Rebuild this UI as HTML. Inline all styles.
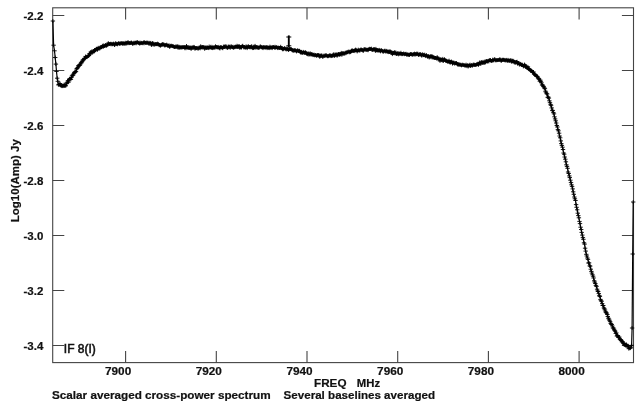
<!DOCTYPE html>
<html><head><meta charset="utf-8"><title>Spectrum</title>
<style>
html,body{margin:0;padding:0;background:#fff;}
svg{display:block;will-change:transform;}
text{font-family:"Liberation Sans",sans-serif;font-weight:bold;font-size:10.7px;fill:#111;stroke:#111;stroke-width:0.2px;}
</style></head><body>
<svg width="639" height="405" viewBox="0 0 639 405">
<rect width="639" height="405" fill="#fff"/>
<rect x="52.7" y="7.8" width="580.8" height="354.8" fill="none" stroke="#444" stroke-width="1.1"/>
<path d="M52.7 15.5h11.6M633.5 15.5h-11.6M52.7 70.5h11.6M633.5 70.5h-11.6M52.7 125.5h11.6M633.5 125.5h-11.6M52.7 180.5h11.6M633.5 180.5h-11.6M52.7 235.5h11.6M633.5 235.5h-11.6M52.7 290.5h11.6M633.5 290.5h-11.6M52.7 345.5h11.6M633.5 345.5h-11.6M125.6 7.8v11.6M125.6 362.6v-11.6M216.3 7.8v11.6M216.3 362.6v-11.6M307.0 7.8v11.6M307.0 362.6v-11.6M397.7 7.8v11.6M397.7 362.6v-11.6M488.4 7.8v11.6M488.4 362.6v-11.6M579.1 7.8v11.6M579.1 362.6v-11.6" stroke="#444" stroke-width="1.1" fill="none"/>
<polyline points="52.9,21.0 53.6,45.2 54.5,50.8 55.2,57.5 55.9,64.1 56.5,71.5 57.2,78.2 57.8,81.3 58.4,84.9 59.0,84.3 59.5,84.6 60.1,83.5 60.7,85.4 61.2,85.6 61.8,86.2 62.4,85.8 62.9,86.2 63.5,85.8 64.1,84.6 64.6,86.0 65.2,85.6 65.8,85.8 66.3,83.8 66.9,82.8 67.5,82.1 68.0,80.6 68.6,82.1 69.2,79.5 69.7,78.7 70.3,78.8 70.9,79.4 71.4,77.5 72.0,75.9 72.6,75.2 73.1,75.1 73.7,73.8 74.3,72.6 74.8,72.1 75.4,71.8 76.0,71.6 76.5,69.0 77.1,68.5 77.7,67.6 78.2,65.9 78.8,65.9 79.4,65.0 79.9,65.3 80.5,63.9 81.1,62.3 81.6,62.8 82.2,61.6 82.8,60.1 83.3,60.0 83.9,59.3 84.5,58.4 85.0,58.2 85.6,56.4 86.2,57.0 86.8,57.2 87.3,56.6 87.9,56.2 88.5,55.7 89.0,55.4 89.6,53.5 90.2,54.1 90.7,52.1 91.3,52.4 91.9,51.3 92.4,52.5 93.0,52.2 93.6,51.0 94.1,51.6 94.7,49.9 95.3,50.0 95.8,49.7 96.4,48.7 97.0,49.2 97.5,49.8 98.1,47.8 98.7,48.6 99.2,47.7 99.8,48.5 100.4,47.5 100.9,47.4 101.5,47.2 102.1,46.8 102.6,45.7 103.2,47.0 103.8,45.3 104.3,46.0 104.9,46.0 105.5,45.0 106.0,45.4 106.6,45.8 107.2,45.0 107.7,44.4 108.3,43.1 108.9,44.1 109.4,44.1 110.0,44.0 110.6,43.7 111.1,44.4 111.7,43.8 112.3,44.1 112.8,44.4 113.4,43.6 114.0,43.8 114.5,45.1 115.1,44.4 115.7,43.1 116.2,43.8 116.8,44.1 117.4,44.4 117.9,43.7 118.5,43.3 119.1,43.2 119.6,43.9 120.2,43.7 120.8,43.2 121.3,43.3 121.9,43.2 122.5,43.8 123.0,42.9 123.6,43.6 124.2,43.7 124.7,43.5 125.3,42.7 125.9,43.9 126.4,42.8 127.0,43.4 127.6,42.7 128.1,42.1 128.7,43.2 129.3,43.2 129.8,43.0 130.4,43.1 131.0,42.6 131.5,42.6 132.1,42.9 132.7,44.0 133.2,43.4 133.8,42.7 134.4,43.3 134.9,42.7 135.5,42.7 136.1,43.4 136.6,42.6 137.2,42.0 137.8,42.4 138.3,43.0 138.9,43.0 139.5,43.6 140.0,42.5 140.6,43.3 141.2,43.1 141.7,42.8 142.3,43.3 142.9,43.1 143.5,42.4 144.0,43.4 144.6,42.2 145.2,42.9 145.7,42.8 146.3,43.0 146.9,42.4 147.4,42.8 148.0,42.8 148.6,43.6 149.1,42.7 149.7,43.3 150.3,43.3 150.8,42.8 151.4,45.1 152.0,43.7 152.5,43.0 153.1,44.7 153.7,43.5 154.2,44.4 154.8,44.7 155.4,44.0 155.9,44.1 156.5,44.1 157.1,44.4 157.6,43.6 158.2,43.9 158.8,44.6 159.3,45.3 159.9,45.1 160.5,45.7 161.0,45.2 161.6,44.6 162.2,44.9 162.7,43.9 163.3,44.5 163.9,44.5 164.4,45.3 165.0,45.6 165.6,45.0 166.1,45.0 166.7,44.6 167.3,45.4 167.8,45.7 168.4,45.9 169.0,45.2 169.5,46.8 170.1,46.5 170.7,45.8 171.2,45.7 171.8,45.8 172.4,46.2 172.9,46.1 173.5,46.5 174.1,46.7 174.6,47.1 175.2,47.1 175.8,46.4 176.3,46.8 176.9,46.4 177.5,46.4 178.0,47.8 178.6,46.6 179.2,48.0 179.7,46.8 180.3,47.2 180.9,47.7 181.4,47.2 182.0,47.5 182.6,47.2 183.1,47.1 183.7,47.2 184.3,47.0 184.8,48.3 185.4,47.3 186.0,48.3 186.5,45.9 187.1,47.4 187.7,47.7 188.2,47.3 188.8,48.1 189.4,47.8 189.9,47.3 190.5,47.7 191.1,49.0 191.6,47.6 192.2,47.7 192.8,47.3 193.3,47.6 193.9,46.8 194.5,47.4 195.0,48.9 195.6,48.1 196.2,47.9 196.7,48.1 197.3,48.5 197.9,47.8 198.4,48.6 199.0,48.1 199.6,47.6 200.2,48.4 200.7,46.2 201.3,47.2 201.9,47.6 202.4,46.9 203.0,47.4 203.6,47.1 204.1,47.1 204.7,48.9 205.3,47.7 205.8,47.4 206.4,48.1 207.0,47.2 207.5,47.8 208.1,47.5 208.7,48.2 209.2,46.5 209.8,47.7 210.4,47.4 210.9,46.7 211.5,47.9 212.1,46.8 212.6,48.2 213.2,47.6 213.8,47.7 214.3,47.3 214.9,47.8 215.5,46.2 216.0,47.3 216.6,46.9 217.2,47.4 217.7,47.2 218.3,47.6 218.9,46.8 219.4,48.2 220.0,48.5 220.6,47.1 221.1,47.2 221.7,47.4 222.3,47.9 222.8,48.3 223.4,46.5 224.0,46.9 224.5,46.6 225.1,46.6 225.7,46.3 226.2,47.4 226.8,46.5 227.4,48.0 227.9,47.6 228.5,46.6 229.1,46.6 229.6,46.8 230.2,47.9 230.8,46.6 231.3,46.3 231.9,47.0 232.5,47.3 233.0,46.7 233.6,47.9 234.2,47.1 234.7,47.3 235.3,46.5 235.9,47.0 236.4,46.9 237.0,45.7 237.6,47.1 238.1,46.0 238.7,46.9 239.3,46.1 239.8,48.0 240.4,47.1 241.0,47.4 241.5,47.5 242.1,46.2 242.7,45.7 243.2,46.8 243.8,47.5 244.4,47.1 244.9,47.5 245.5,47.6 246.1,46.3 246.6,47.3 247.2,48.2 247.8,46.8 248.3,46.1 248.9,47.1 249.5,47.0 250.0,47.5 250.6,46.8 251.2,47.3 251.7,46.1 252.3,47.8 252.9,48.2 253.4,48.1 254.0,46.5 254.6,47.6 255.1,45.8 255.7,47.6 256.3,47.4 256.9,46.9 257.4,47.6 258.0,47.5 258.6,47.9 259.1,47.5 259.7,47.5 260.3,46.3 260.8,46.8 261.4,47.1 262.0,47.6 262.5,47.4 263.1,48.2 263.7,46.9 264.2,47.3 264.8,47.5 265.4,47.3 265.9,47.7 266.5,47.1 267.1,48.2 267.6,47.2 268.2,48.0 268.8,47.4 269.3,48.2 269.9,46.6 270.5,47.7 271.0,47.2 271.6,47.6 272.2,48.2 272.7,47.0 273.3,46.9 273.9,47.1 274.4,47.8 275.0,46.7 275.6,47.8 276.1,47.1 276.7,47.2 277.3,47.7 277.8,48.2 278.4,47.6 279.0,47.8 279.5,48.0 280.1,48.0 280.7,46.7 281.2,48.0 281.8,48.3 282.4,49.0 282.9,49.5 283.5,48.9 284.1,48.6 284.6,48.1 285.2,48.7 285.8,49.2 286.3,49.5 286.9,48.4 287.5,49.1 288.0,49.4 288.6,50.1 289.2,49.2 289.7,48.9 290.3,48.9 290.9,49.2 291.4,49.2 292.0,50.2 292.6,50.4 293.1,50.4 293.7,50.8 294.3,50.0 294.8,50.6 295.4,50.3 296.0,50.7 296.5,51.5 297.1,51.0 297.7,50.1 298.2,51.1 298.8,51.0 299.4,50.7 299.9,51.3 300.5,52.3 301.1,52.9 301.6,51.8 302.2,52.7 302.8,53.0 303.3,51.8 303.9,52.5 304.5,52.7 305.0,52.9 305.6,52.1 306.2,52.9 306.7,53.8 307.3,54.0 307.9,54.4 308.4,53.4 309.0,54.7 309.6,54.2 310.1,53.2 310.7,54.5 311.3,54.0 311.8,54.6 312.4,54.4 313.0,55.2 313.6,54.8 314.1,54.6 314.7,55.4 315.3,55.1 315.8,54.9 316.4,55.9 317.0,55.1 317.5,55.1 318.1,55.3 318.7,54.9 319.2,55.5 319.8,57.0 320.4,55.5 320.9,56.0 321.5,55.4 322.1,55.6 322.6,56.8 323.2,56.5 323.8,55.6 324.3,56.0 324.9,55.5 325.5,55.5 326.0,55.4 326.6,55.4 327.2,56.1 327.7,56.3 328.3,56.2 328.9,55.8 329.4,55.2 330.0,55.9 330.6,55.3 331.1,56.2 331.7,55.9 332.3,55.9 332.8,55.2 333.4,54.3 334.0,55.8 334.5,55.8 335.1,54.2 335.7,55.0 336.2,55.5 336.8,54.2 337.4,55.6 337.9,54.4 338.5,53.9 339.1,55.1 339.6,54.4 340.2,53.8 340.8,54.5 341.3,52.8 341.9,54.8 342.5,53.2 343.0,53.7 343.6,53.2 344.2,53.5 344.7,53.6 345.3,52.6 345.9,53.3 346.4,52.5 347.0,52.2 347.6,52.3 348.1,51.7 348.7,51.6 349.3,52.4 349.8,51.7 350.4,52.2 351.0,51.7 351.5,50.8 352.1,50.2 352.7,50.7 353.2,51.1 353.8,50.9 354.4,50.3 354.9,51.2 355.5,49.6 356.1,49.8 356.6,50.5 357.2,51.5 357.8,50.5 358.3,49.6 358.9,50.5 359.5,50.4 360.0,50.5 360.6,49.7 361.2,49.4 361.7,49.9 362.3,50.0 362.9,50.6 363.4,50.8 364.0,49.2 364.6,49.3 365.1,49.5 365.7,49.4 366.3,49.8 366.8,49.8 367.4,49.7 368.0,50.3 368.5,49.5 369.1,49.0 369.7,48.7 370.3,49.0 370.8,49.0 371.4,48.6 372.0,50.0 372.5,49.8 373.1,49.5 373.7,49.3 374.2,49.0 374.8,49.4 375.4,51.0 375.9,48.8 376.5,50.2 377.1,50.6 377.6,50.3 378.2,50.1 378.8,50.8 379.3,49.8 379.9,50.8 380.5,51.4 381.0,50.1 381.6,50.3 382.2,50.9 382.7,51.4 383.3,51.7 383.9,51.4 384.4,50.8 385.0,50.6 385.6,51.4 386.1,51.6 386.7,50.8 387.3,51.5 387.8,51.8 388.4,52.2 389.0,51.2 389.5,52.1 390.1,51.3 390.7,51.8 391.2,52.1 391.8,53.1 392.4,54.2 392.9,52.6 393.5,52.9 394.1,53.3 394.6,52.1 395.2,53.4 395.8,52.4 396.3,54.1 396.9,54.1 397.5,53.6 398.0,52.9 398.6,54.4 399.2,53.6 399.7,53.6 400.3,53.9 400.9,52.7 401.4,53.9 402.0,54.3 402.6,54.0 403.1,53.9 403.7,53.4 404.3,54.3 404.8,54.1 405.4,54.0 406.0,53.7 406.5,54.5 407.1,54.8 407.7,54.3 408.2,54.6 408.8,54.9 409.4,55.1 409.9,54.3 410.5,54.1 411.1,54.0 411.6,54.3 412.2,54.6 412.8,54.8 413.3,54.0 413.9,54.3 414.5,53.6 415.0,54.8 415.6,53.9 416.2,54.3 416.7,53.6 417.3,53.8 417.9,53.7 418.4,55.1 419.0,54.5 419.6,54.4 420.1,54.0 420.7,54.3 421.3,55.1 421.8,55.8 422.4,54.3 423.0,54.7 423.5,55.2 424.1,55.1 424.7,54.6 425.2,55.7 425.8,56.2 426.4,55.0 427.0,56.1 427.5,56.6 428.1,56.7 428.7,56.0 429.2,57.6 429.8,56.8 430.4,56.1 430.9,57.2 431.5,56.2 432.1,57.5 432.6,56.4 433.2,57.7 433.8,57.0 434.3,58.1 434.9,58.0 435.5,58.0 436.0,57.9 436.6,58.6 437.2,57.1 437.7,58.5 438.3,58.7 438.9,58.9 439.4,59.3 440.0,61.0 440.6,59.2 441.1,59.8 441.7,59.6 442.3,60.6 442.8,58.8 443.4,61.0 444.0,59.9 444.5,59.2 445.1,60.0 445.7,60.7 446.2,61.1 446.8,61.1 447.4,61.7 447.9,61.4 448.5,61.6 449.1,60.6 449.6,62.2 450.2,62.7 450.8,62.1 451.3,61.4 451.9,61.9 452.5,63.7 453.0,62.6 453.6,62.7 454.2,62.7 454.7,63.7 455.3,63.1 455.9,63.1 456.4,62.9 457.0,63.8 457.6,64.6 458.1,64.1 458.7,64.8 459.3,64.5 459.8,64.6 460.4,64.8 461.0,64.7 461.5,65.4 462.1,65.1 462.7,64.6 463.2,65.1 463.8,65.1 464.4,65.4 464.9,65.4 465.5,65.6 466.1,64.6 466.6,65.7 467.2,66.3 467.8,64.9 468.3,66.5 468.9,65.7 469.5,65.4 470.0,64.6 470.6,66.1 471.2,65.0 471.7,65.2 472.3,65.8 472.9,64.8 473.4,64.7 474.0,64.5 474.6,64.9 475.1,65.1 475.7,64.9 476.3,64.7 476.8,64.2 477.4,64.3 478.0,63.7 478.5,64.9 479.1,63.8 479.7,62.4 480.2,62.7 480.8,64.0 481.4,62.1 481.9,62.4 482.5,62.7 483.1,61.8 483.7,62.8 484.2,63.0 484.8,61.5 485.4,62.5 485.9,61.2 486.5,61.0 487.1,61.6 487.6,61.4 488.2,60.8 488.8,61.5 489.3,60.1 489.9,60.3 490.5,60.0 491.0,61.0 491.6,60.9 492.2,60.8 492.7,59.6 493.3,60.3 493.9,60.4 494.4,59.2 495.0,59.5 495.6,60.3 496.1,60.4 496.7,60.1 497.3,60.2 497.8,60.1 498.4,60.0 499.0,59.8 499.5,59.4 500.1,59.7 500.7,59.6 501.2,61.1 501.8,60.0 502.4,59.8 502.9,59.7 503.5,59.8 504.1,59.8 504.6,60.3 505.2,60.1 505.8,60.6 506.3,59.8 506.9,60.4 507.5,60.8 508.0,59.8 508.6,60.6 509.2,60.8 509.7,60.6 510.3,60.6 510.9,60.0 511.4,61.8 512.0,60.8 512.6,60.7 513.1,62.0 513.7,60.8 514.3,62.5 514.8,62.3 515.4,62.6 516.0,62.4 516.5,61.9 517.1,61.7 517.7,63.8 518.2,63.0 518.8,63.2 519.4,64.7 519.9,63.7 520.5,64.2 521.1,64.5 521.6,64.8 522.2,64.6 522.8,65.1 523.3,66.4 523.9,66.3 524.5,64.5 525.0,65.3 525.6,66.9 526.2,66.9 526.7,67.0 527.3,68.0 527.9,66.8 528.4,69.0 529.0,68.8 529.6,69.5 530.1,69.9 530.7,70.7 531.3,70.6 531.8,70.9 532.4,72.2 533.0,72.3 533.5,72.0 534.1,74.0 534.7,74.4 535.2,75.1 535.8,75.1 536.4,76.0 536.9,76.3 537.5,76.7 538.1,78.0 538.6,78.8 539.2,79.1 539.8,81.2 540.4,80.2 540.9,81.7 541.5,82.8 542.1,84.9 542.6,85.1 543.2,86.1 543.8,86.8 544.3,87.9 544.9,88.7 545.5,91.2 546.0,92.2 546.6,93.7 547.2,94.0 547.7,97.3 548.3,97.1 548.9,98.1 549.4,100.8 550.0,102.7 550.6,104.7 551.1,105.3 551.7,107.9 552.3,110.3 552.8,110.7 553.4,112.6 554.0,113.9 554.5,116.8 555.1,118.9 555.7,120.8 556.2,123.0 556.8,125.5 557.4,127.0 557.9,129.6 558.5,130.8 559.1,133.2 559.6,136.0 560.2,137.8 560.8,140.9 561.3,143.6 561.9,145.4 562.5,147.2 563.0,149.5 563.6,153.0 564.2,154.2 564.7,157.0 565.3,159.2 565.9,161.8 566.4,164.8 567.0,166.4 567.6,168.3 568.1,172.0 568.7,173.5 569.3,175.9 569.8,177.6 570.4,180.2 571.0,182.6 571.5,184.8 572.1,186.4 572.7,188.9 573.2,191.8 573.8,194.3 574.4,197.0 574.9,198.8 575.5,200.5 576.1,204.6 576.6,207.3 577.2,209.8 577.8,213.2 578.3,215.6 578.9,217.8 579.5,221.4 580.0,223.6 580.6,227.2 581.2,229.5 581.7,232.4 582.3,235.1 582.9,237.6 583.4,239.3 584.0,242.8 584.6,244.1 585.1,248.2 585.7,251.1 586.3,254.3 586.8,256.0 587.4,258.0 588.0,259.4 588.5,263.0 589.1,262.9 589.7,265.9 590.2,266.1 590.8,269.2 591.4,271.4 591.9,273.1 592.5,274.8 593.1,276.2 593.6,278.0 594.2,280.8 594.8,282.1 595.3,283.5 595.9,285.4 596.5,286.4 597.1,289.2 597.6,291.0 598.2,291.5 598.8,293.6 599.3,295.7 599.9,296.4 600.5,299.4 601.0,300.7 601.6,301.3 602.2,303.6 602.7,305.5 603.3,305.5 603.9,307.9 604.4,308.8 605.0,310.0 605.6,311.8 606.1,312.4 606.7,313.2 607.3,314.5 607.8,316.5 608.4,318.2 609.0,319.1 609.5,320.3 610.1,321.6 610.7,323.4 611.2,324.1 611.8,324.6 612.4,326.0 612.9,327.9 613.5,328.1 614.1,329.3 614.6,330.6 615.2,331.2 615.8,333.4 616.3,332.9 616.9,336.0 617.5,335.6 618.0,335.9 618.6,337.4 619.2,337.0 619.7,338.9 620.3,339.7 620.9,339.7 621.4,340.5 622.0,341.9 622.6,341.7 623.1,342.8 623.7,343.6 624.3,344.9 624.8,344.2 625.4,344.9 626.0,346.0 626.5,344.4 627.1,346.1 627.7,345.6 628.2,346.1 628.8,348.7 629.4,348.2 630.4,348.2 631.0,347.2 631.6,345.3 632.1,328.0 632.7,254.0 633.2,202.0" fill="none" stroke="#000" stroke-width="1.2" stroke-linejoin="round"/>
<path d="M50.7 21.0h4.4M52.9 19.1v3.8M51.4 45.2h4.4M53.6 43.3v3.8M52.3 50.8h4.4M54.5 48.9v3.8M53.0 57.5h4.4M55.2 55.6v3.8M53.7 64.1h4.4M55.9 62.2v3.8M54.3 71.5h4.4M56.5 69.6v3.8M55.0 78.2h4.4M57.2 76.3v3.8M55.6 81.3h4.4M57.8 79.4v3.8M56.2 84.9h4.4M58.4 83.0v3.8M56.8 84.3h4.4M59.0 82.4v3.8M57.3 84.6h4.4M59.5 82.7v3.8M57.9 83.5h4.4M60.1 81.6v3.8M58.5 85.4h4.4M60.7 83.5v3.8M59.0 85.6h4.4M61.2 83.7v3.8M59.6 86.2h4.4M61.8 84.3v3.8M60.2 85.8h4.4M62.4 83.9v3.8M60.7 86.2h4.4M62.9 84.3v3.8M61.3 85.8h4.4M63.5 83.9v3.8M61.9 84.6h4.4M64.1 82.7v3.8M62.4 86.0h4.4M64.6 84.1v3.8M63.0 85.6h4.4M65.2 83.7v3.8M63.6 85.8h4.4M65.8 83.9v3.8M64.1 83.8h4.4M66.3 81.9v3.8M64.7 82.8h4.4M66.9 80.9v3.8M65.3 82.1h4.4M67.5 80.2v3.8M65.8 80.6h4.4M68.0 78.7v3.8M66.4 82.1h4.4M68.6 80.2v3.8M67.0 79.5h4.4M69.2 77.6v3.8M67.5 78.7h4.4M69.7 76.8v3.8M68.1 78.8h4.4M70.3 76.9v3.8M68.7 79.4h4.4M70.9 77.5v3.8M69.2 77.5h4.4M71.4 75.6v3.8M69.8 75.9h4.4M72.0 74.0v3.8M70.4 75.2h4.4M72.6 73.3v3.8M70.9 75.1h4.4M73.1 73.2v3.8M71.5 73.8h4.4M73.7 71.9v3.8M72.1 72.6h4.4M74.3 70.7v3.8M72.6 72.1h4.4M74.8 70.2v3.8M73.2 71.8h4.4M75.4 69.9v3.8M73.8 71.6h4.4M76.0 69.7v3.8M74.3 69.0h4.4M76.5 67.1v3.8M74.9 68.5h4.4M77.1 66.6v3.8M75.5 67.6h4.4M77.7 65.7v3.8M76.0 65.9h4.4M78.2 64.0v3.8M76.6 65.9h4.4M78.8 64.0v3.8M77.2 65.0h4.4M79.4 63.1v3.8M77.7 65.3h4.4M79.9 63.4v3.8M78.3 63.9h4.4M80.5 62.0v3.8M78.9 62.3h4.4M81.1 60.4v3.8M79.4 62.8h4.4M81.6 60.9v3.8M80.0 61.6h4.4M82.2 59.7v3.8M80.6 60.1h4.4M82.8 58.2v3.8M81.1 60.0h4.4M83.3 58.1v3.8M81.7 59.3h4.4M83.9 57.4v3.8M82.3 58.4h4.4M84.5 56.5v3.8M82.8 58.2h4.4M85.0 56.3v3.8M83.4 56.4h4.4M85.6 54.5v3.8M84.0 57.0h4.4M86.2 55.1v3.8M84.5 57.2h4.4M86.8 55.3v3.8M85.1 56.6h4.4M87.3 54.7v3.8M85.7 56.2h4.4M87.9 54.3v3.8M86.3 55.7h4.4M88.5 53.8v3.8M86.8 55.4h4.4M89.0 53.5v3.8M87.4 53.5h4.4M89.6 51.6v3.8M88.0 54.1h4.4M90.2 52.2v3.8M88.5 52.1h4.4M90.7 50.2v3.8M89.1 52.4h4.4M91.3 50.5v3.8M89.7 51.3h4.4M91.9 49.4v3.8M90.2 52.5h4.4M92.4 50.6v3.8M90.8 52.2h4.4M93.0 50.3v3.8M91.4 51.0h4.4M93.6 49.1v3.8M91.9 51.6h4.4M94.1 49.7v3.8M92.5 49.9h4.4M94.7 48.0v3.8M93.1 50.0h4.4M95.3 48.1v3.8M93.6 49.7h4.4M95.8 47.8v3.8M94.2 48.7h4.4M96.4 46.8v3.8M94.8 49.2h4.4M97.0 47.3v3.8M95.3 49.8h4.4M97.5 47.9v3.8M95.9 47.8h4.4M98.1 45.9v3.8M96.5 48.6h4.4M98.7 46.7v3.8M97.0 47.7h4.4M99.2 45.8v3.8M97.6 48.5h4.4M99.8 46.6v3.8M98.2 47.5h4.4M100.4 45.6v3.8M98.7 47.4h4.4M100.9 45.5v3.8M99.3 47.2h4.4M101.5 45.3v3.8M99.9 46.8h4.4M102.1 44.9v3.8M100.4 45.7h4.4M102.6 43.8v3.8M101.0 47.0h4.4M103.2 45.1v3.8M101.6 45.3h4.4M103.8 43.4v3.8M102.1 46.0h4.4M104.3 44.1v3.8M102.7 46.0h4.4M104.9 44.1v3.8M103.3 45.0h4.4M105.5 43.1v3.8M103.8 45.4h4.4M106.0 43.5v3.8M104.4 45.8h4.4M106.6 43.9v3.8M105.0 45.0h4.4M107.2 43.1v3.8M105.5 44.4h4.4M107.7 42.5v3.8M106.1 43.1h4.4M108.3 41.2v3.8M106.7 44.1h4.4M108.9 42.2v3.8M107.2 44.1h4.4M109.4 42.2v3.8M107.8 44.0h4.4M110.0 42.1v3.8M108.4 43.7h4.4M110.6 41.8v3.8M108.9 44.4h4.4M111.1 42.5v3.8M109.5 43.8h4.4M111.7 41.9v3.8M110.1 44.1h4.4M112.3 42.2v3.8M110.6 44.4h4.4M112.8 42.5v3.8M111.2 43.6h4.4M113.4 41.7v3.8M111.8 43.8h4.4M114.0 41.9v3.8M112.3 45.1h4.4M114.5 43.2v3.8M112.9 44.4h4.4M115.1 42.5v3.8M113.5 43.1h4.4M115.7 41.2v3.8M114.0 43.8h4.4M116.2 41.9v3.8M114.6 44.1h4.4M116.8 42.2v3.8M115.2 44.4h4.4M117.4 42.5v3.8M115.7 43.7h4.4M117.9 41.8v3.8M116.3 43.3h4.4M118.5 41.4v3.8M116.9 43.2h4.4M119.1 41.3v3.8M117.4 43.9h4.4M119.6 42.0v3.8M118.0 43.7h4.4M120.2 41.8v3.8M118.6 43.2h4.4M120.8 41.3v3.8M119.1 43.3h4.4M121.3 41.4v3.8M119.7 43.2h4.4M121.9 41.3v3.8M120.3 43.8h4.4M122.5 41.9v3.8M120.8 42.9h4.4M123.0 41.0v3.8M121.4 43.6h4.4M123.6 41.7v3.8M122.0 43.7h4.4M124.2 41.8v3.8M122.5 43.5h4.4M124.7 41.6v3.8M123.1 42.7h4.4M125.3 40.8v3.8M123.7 43.9h4.4M125.9 42.0v3.8M124.2 42.8h4.4M126.4 40.9v3.8M124.8 43.4h4.4M127.0 41.5v3.8M125.4 42.7h4.4M127.6 40.8v3.8M125.9 42.1h4.4M128.1 40.2v3.8M126.5 43.2h4.4M128.7 41.3v3.8M127.1 43.2h4.4M129.3 41.3v3.8M127.6 43.0h4.4M129.8 41.1v3.8M128.2 43.1h4.4M130.4 41.2v3.8M128.8 42.6h4.4M131.0 40.7v3.8M129.3 42.6h4.4M131.5 40.7v3.8M129.9 42.9h4.4M132.1 41.0v3.8M130.5 44.0h4.4M132.7 42.1v3.8M131.0 43.4h4.4M133.2 41.5v3.8M131.6 42.7h4.4M133.8 40.8v3.8M132.2 43.3h4.4M134.4 41.4v3.8M132.7 42.7h4.4M134.9 40.8v3.8M133.3 42.7h4.4M135.5 40.8v3.8M133.9 43.4h4.4M136.1 41.5v3.8M134.4 42.6h4.4M136.6 40.7v3.8M135.0 42.0h4.4M137.2 40.1v3.8M135.6 42.4h4.4M137.8 40.5v3.8M136.1 43.0h4.4M138.3 41.1v3.8M136.7 43.0h4.4M138.9 41.1v3.8M137.3 43.6h4.4M139.5 41.7v3.8M137.8 42.5h4.4M140.0 40.6v3.8M138.4 43.3h4.4M140.6 41.4v3.8M139.0 43.1h4.4M141.2 41.2v3.8M139.5 42.8h4.4M141.7 40.9v3.8M140.1 43.3h4.4M142.3 41.4v3.8M140.7 43.1h4.4M142.9 41.2v3.8M141.3 42.4h4.4M143.5 40.5v3.8M141.8 43.4h4.4M144.0 41.5v3.8M142.4 42.2h4.4M144.6 40.3v3.8M143.0 42.9h4.4M145.2 41.0v3.8M143.5 42.8h4.4M145.7 40.9v3.8M144.1 43.0h4.4M146.3 41.1v3.8M144.7 42.4h4.4M146.9 40.5v3.8M145.2 42.8h4.4M147.4 40.9v3.8M145.8 42.8h4.4M148.0 40.9v3.8M146.4 43.6h4.4M148.6 41.7v3.8M146.9 42.7h4.4M149.1 40.8v3.8M147.5 43.3h4.4M149.7 41.4v3.8M148.1 43.3h4.4M150.3 41.4v3.8M148.6 42.8h4.4M150.8 40.9v3.8M149.2 45.1h4.4M151.4 43.2v3.8M149.8 43.7h4.4M152.0 41.8v3.8M150.3 43.0h4.4M152.5 41.1v3.8M150.9 44.7h4.4M153.1 42.8v3.8M151.5 43.5h4.4M153.7 41.6v3.8M152.0 44.4h4.4M154.2 42.5v3.8M152.6 44.7h4.4M154.8 42.8v3.8M153.2 44.0h4.4M155.4 42.1v3.8M153.7 44.1h4.4M155.9 42.2v3.8M154.3 44.1h4.4M156.5 42.2v3.8M154.9 44.4h4.4M157.1 42.5v3.8M155.4 43.6h4.4M157.6 41.7v3.8M156.0 43.9h4.4M158.2 42.0v3.8M156.6 44.6h4.4M158.8 42.7v3.8M157.1 45.3h4.4M159.3 43.4v3.8M157.7 45.1h4.4M159.9 43.2v3.8M158.3 45.7h4.4M160.5 43.8v3.8M158.8 45.2h4.4M161.0 43.3v3.8M159.4 44.6h4.4M161.6 42.7v3.8M160.0 44.9h4.4M162.2 43.0v3.8M160.5 43.9h4.4M162.7 42.0v3.8M161.1 44.5h4.4M163.3 42.6v3.8M161.7 44.5h4.4M163.9 42.6v3.8M162.2 45.3h4.4M164.4 43.4v3.8M162.8 45.6h4.4M165.0 43.7v3.8M163.4 45.0h4.4M165.6 43.1v3.8M163.9 45.0h4.4M166.1 43.1v3.8M164.5 44.6h4.4M166.7 42.7v3.8M165.1 45.4h4.4M167.3 43.5v3.8M165.6 45.7h4.4M167.8 43.8v3.8M166.2 45.9h4.4M168.4 44.0v3.8M166.8 45.2h4.4M169.0 43.3v3.8M167.3 46.8h4.4M169.5 44.9v3.8M167.9 46.5h4.4M170.1 44.6v3.8M168.5 45.8h4.4M170.7 43.9v3.8M169.0 45.7h4.4M171.2 43.8v3.8M169.6 45.8h4.4M171.8 43.9v3.8M170.2 46.2h4.4M172.4 44.3v3.8M170.7 46.1h4.4M172.9 44.2v3.8M171.3 46.5h4.4M173.5 44.6v3.8M171.9 46.7h4.4M174.1 44.8v3.8M172.4 47.1h4.4M174.6 45.2v3.8M173.0 47.1h4.4M175.2 45.2v3.8M173.6 46.4h4.4M175.8 44.5v3.8M174.1 46.8h4.4M176.3 44.9v3.8M174.7 46.4h4.4M176.9 44.5v3.8M175.3 46.4h4.4M177.5 44.5v3.8M175.8 47.8h4.4M178.0 45.9v3.8M176.4 46.6h4.4M178.6 44.7v3.8M177.0 48.0h4.4M179.2 46.1v3.8M177.5 46.8h4.4M179.7 44.9v3.8M178.1 47.2h4.4M180.3 45.3v3.8M178.7 47.7h4.4M180.9 45.8v3.8M179.2 47.2h4.4M181.4 45.3v3.8M179.8 47.5h4.4M182.0 45.6v3.8M180.4 47.2h4.4M182.6 45.3v3.8M180.9 47.1h4.4M183.1 45.2v3.8M181.5 47.2h4.4M183.7 45.3v3.8M182.1 47.0h4.4M184.3 45.1v3.8M182.6 48.3h4.4M184.8 46.4v3.8M183.2 47.3h4.4M185.4 45.4v3.8M183.8 48.3h4.4M186.0 46.4v3.8M184.3 45.9h4.4M186.5 44.0v3.8M184.9 47.4h4.4M187.1 45.5v3.8M185.5 47.7h4.4M187.7 45.8v3.8M186.0 47.3h4.4M188.2 45.4v3.8M186.6 48.1h4.4M188.8 46.2v3.8M187.2 47.8h4.4M189.4 45.9v3.8M187.7 47.3h4.4M189.9 45.4v3.8M188.3 47.7h4.4M190.5 45.8v3.8M188.9 49.0h4.4M191.1 47.1v3.8M189.4 47.6h4.4M191.6 45.7v3.8M190.0 47.7h4.4M192.2 45.8v3.8M190.6 47.3h4.4M192.8 45.4v3.8M191.1 47.6h4.4M193.3 45.7v3.8M191.7 46.8h4.4M193.9 44.9v3.8M192.3 47.4h4.4M194.5 45.5v3.8M192.8 48.9h4.4M195.0 47.0v3.8M193.4 48.1h4.4M195.6 46.2v3.8M194.0 47.9h4.4M196.2 46.0v3.8M194.5 48.1h4.4M196.7 46.2v3.8M195.1 48.5h4.4M197.3 46.6v3.8M195.7 47.8h4.4M197.9 45.9v3.8M196.2 48.6h4.4M198.4 46.7v3.8M196.8 48.1h4.4M199.0 46.2v3.8M197.4 47.6h4.4M199.6 45.7v3.8M198.0 48.4h4.4M200.2 46.5v3.8M198.5 46.2h4.4M200.7 44.3v3.8M199.1 47.2h4.4M201.3 45.3v3.8M199.7 47.6h4.4M201.9 45.7v3.8M200.2 46.9h4.4M202.4 45.0v3.8M200.8 47.4h4.4M203.0 45.5v3.8M201.4 47.1h4.4M203.6 45.2v3.8M201.9 47.1h4.4M204.1 45.2v3.8M202.5 48.9h4.4M204.7 47.0v3.8M203.1 47.7h4.4M205.3 45.8v3.8M203.6 47.4h4.4M205.8 45.5v3.8M204.2 48.1h4.4M206.4 46.2v3.8M204.8 47.2h4.4M207.0 45.3v3.8M205.3 47.8h4.4M207.5 45.9v3.8M205.9 47.5h4.4M208.1 45.6v3.8M206.5 48.2h4.4M208.7 46.3v3.8M207.0 46.5h4.4M209.2 44.6v3.8M207.6 47.7h4.4M209.8 45.8v3.8M208.2 47.4h4.4M210.4 45.5v3.8M208.7 46.7h4.4M210.9 44.8v3.8M209.3 47.9h4.4M211.5 46.0v3.8M209.9 46.8h4.4M212.1 44.9v3.8M210.4 48.2h4.4M212.6 46.3v3.8M211.0 47.6h4.4M213.2 45.7v3.8M211.6 47.7h4.4M213.8 45.8v3.8M212.1 47.3h4.4M214.3 45.4v3.8M212.7 47.8h4.4M214.9 45.9v3.8M213.3 46.2h4.4M215.5 44.3v3.8M213.8 47.3h4.4M216.0 45.4v3.8M214.4 46.9h4.4M216.6 45.0v3.8M215.0 47.4h4.4M217.2 45.5v3.8M215.5 47.2h4.4M217.7 45.3v3.8M216.1 47.6h4.4M218.3 45.7v3.8M216.7 46.8h4.4M218.9 44.9v3.8M217.2 48.2h4.4M219.4 46.3v3.8M217.8 48.5h4.4M220.0 46.6v3.8M218.4 47.1h4.4M220.6 45.2v3.8M218.9 47.2h4.4M221.1 45.3v3.8M219.5 47.4h4.4M221.7 45.5v3.8M220.1 47.9h4.4M222.3 46.0v3.8M220.6 48.3h4.4M222.8 46.4v3.8M221.2 46.5h4.4M223.4 44.6v3.8M221.8 46.9h4.4M224.0 45.0v3.8M222.3 46.6h4.4M224.5 44.7v3.8M222.9 46.6h4.4M225.1 44.7v3.8M223.5 46.3h4.4M225.7 44.4v3.8M224.0 47.4h4.4M226.2 45.5v3.8M224.6 46.5h4.4M226.8 44.6v3.8M225.2 48.0h4.4M227.4 46.1v3.8M225.7 47.6h4.4M227.9 45.7v3.8M226.3 46.6h4.4M228.5 44.7v3.8M226.9 46.6h4.4M229.1 44.7v3.8M227.4 46.8h4.4M229.6 44.9v3.8M228.0 47.9h4.4M230.2 46.0v3.8M228.6 46.6h4.4M230.8 44.7v3.8M229.1 46.3h4.4M231.3 44.4v3.8M229.7 47.0h4.4M231.9 45.1v3.8M230.3 47.3h4.4M232.5 45.4v3.8M230.8 46.7h4.4M233.0 44.8v3.8M231.4 47.9h4.4M233.6 46.0v3.8M232.0 47.1h4.4M234.2 45.2v3.8M232.5 47.3h4.4M234.7 45.4v3.8M233.1 46.5h4.4M235.3 44.6v3.8M233.7 47.0h4.4M235.9 45.1v3.8M234.2 46.9h4.4M236.4 45.0v3.8M234.8 45.7h4.4M237.0 43.8v3.8M235.4 47.1h4.4M237.6 45.2v3.8M235.9 46.0h4.4M238.1 44.1v3.8M236.5 46.9h4.4M238.7 45.0v3.8M237.1 46.1h4.4M239.3 44.2v3.8M237.6 48.0h4.4M239.8 46.1v3.8M238.2 47.1h4.4M240.4 45.2v3.8M238.8 47.4h4.4M241.0 45.5v3.8M239.3 47.5h4.4M241.5 45.6v3.8M239.9 46.2h4.4M242.1 44.3v3.8M240.5 45.7h4.4M242.7 43.8v3.8M241.0 46.8h4.4M243.2 44.9v3.8M241.6 47.5h4.4M243.8 45.6v3.8M242.2 47.1h4.4M244.4 45.2v3.8M242.7 47.5h4.4M244.9 45.6v3.8M243.3 47.6h4.4M245.5 45.7v3.8M243.9 46.3h4.4M246.1 44.4v3.8M244.4 47.3h4.4M246.6 45.4v3.8M245.0 48.2h4.4M247.2 46.3v3.8M245.6 46.8h4.4M247.8 44.9v3.8M246.1 46.1h4.4M248.3 44.2v3.8M246.7 47.1h4.4M248.9 45.2v3.8M247.3 47.0h4.4M249.5 45.1v3.8M247.8 47.5h4.4M250.0 45.6v3.8M248.4 46.8h4.4M250.6 44.9v3.8M249.0 47.3h4.4M251.2 45.4v3.8M249.5 46.1h4.4M251.7 44.2v3.8M250.1 47.8h4.4M252.3 45.9v3.8M250.7 48.2h4.4M252.9 46.3v3.8M251.2 48.1h4.4M253.4 46.2v3.8M251.8 46.5h4.4M254.0 44.6v3.8M252.4 47.6h4.4M254.6 45.7v3.8M252.9 45.8h4.4M255.1 43.9v3.8M253.5 47.6h4.4M255.7 45.7v3.8M254.1 47.4h4.4M256.3 45.5v3.8M254.7 46.9h4.4M256.9 45.0v3.8M255.2 47.6h4.4M257.4 45.7v3.8M255.8 47.5h4.4M258.0 45.6v3.8M256.4 47.9h4.4M258.6 46.0v3.8M256.9 47.5h4.4M259.1 45.6v3.8M257.5 47.5h4.4M259.7 45.6v3.8M258.1 46.3h4.4M260.3 44.4v3.8M258.6 46.8h4.4M260.8 44.9v3.8M259.2 47.1h4.4M261.4 45.2v3.8M259.8 47.6h4.4M262.0 45.7v3.8M260.3 47.4h4.4M262.5 45.5v3.8M260.9 48.2h4.4M263.1 46.3v3.8M261.5 46.9h4.4M263.7 45.0v3.8M262.0 47.3h4.4M264.2 45.4v3.8M262.6 47.5h4.4M264.8 45.6v3.8M263.2 47.3h4.4M265.4 45.4v3.8M263.7 47.7h4.4M265.9 45.8v3.8M264.3 47.1h4.4M266.5 45.2v3.8M264.9 48.2h4.4M267.1 46.3v3.8M265.4 47.2h4.4M267.6 45.3v3.8M266.0 48.0h4.4M268.2 46.1v3.8M266.6 47.4h4.4M268.8 45.5v3.8M267.1 48.2h4.4M269.3 46.3v3.8M267.7 46.6h4.4M269.9 44.7v3.8M268.3 47.7h4.4M270.5 45.8v3.8M268.8 47.2h4.4M271.0 45.3v3.8M269.4 47.6h4.4M271.6 45.7v3.8M270.0 48.2h4.4M272.2 46.3v3.8M270.5 47.0h4.4M272.7 45.1v3.8M271.1 46.9h4.4M273.3 45.0v3.8M271.7 47.1h4.4M273.9 45.2v3.8M272.2 47.8h4.4M274.4 45.9v3.8M272.8 46.7h4.4M275.0 44.8v3.8M273.4 47.8h4.4M275.6 45.9v3.8M273.9 47.1h4.4M276.1 45.2v3.8M274.5 47.2h4.4M276.7 45.3v3.8M275.1 47.7h4.4M277.3 45.8v3.8M275.6 48.2h4.4M277.8 46.3v3.8M276.2 47.6h4.4M278.4 45.7v3.8M276.8 47.8h4.4M279.0 45.9v3.8M277.3 48.0h4.4M279.5 46.1v3.8M277.9 48.0h4.4M280.1 46.1v3.8M278.5 46.7h4.4M280.7 44.8v3.8M279.0 48.0h4.4M281.2 46.1v3.8M279.6 48.3h4.4M281.8 46.4v3.8M280.2 49.0h4.4M282.4 47.1v3.8M280.7 49.5h4.4M282.9 47.6v3.8M281.3 48.9h4.4M283.5 47.0v3.8M281.9 48.6h4.4M284.1 46.7v3.8M282.4 48.1h4.4M284.6 46.2v3.8M283.0 48.7h4.4M285.2 46.8v3.8M283.6 49.2h4.4M285.8 47.3v3.8M284.1 49.5h4.4M286.3 47.6v3.8M284.7 48.4h4.4M286.9 46.5v3.8M285.3 49.1h4.4M287.5 47.2v3.8M285.8 49.4h4.4M288.0 47.5v3.8M286.4 50.1h4.4M288.6 48.2v3.8M287.0 49.2h4.4M289.2 47.3v3.8M287.5 48.9h4.4M289.7 47.0v3.8M288.1 48.9h4.4M290.3 47.0v3.8M288.7 49.2h4.4M290.9 47.3v3.8M289.2 49.2h4.4M291.4 47.3v3.8M289.8 50.2h4.4M292.0 48.3v3.8M290.4 50.4h4.4M292.6 48.5v3.8M290.9 50.4h4.4M293.1 48.5v3.8M291.5 50.8h4.4M293.7 48.9v3.8M292.1 50.0h4.4M294.3 48.1v3.8M292.6 50.6h4.4M294.8 48.7v3.8M293.2 50.3h4.4M295.4 48.4v3.8M293.8 50.7h4.4M296.0 48.8v3.8M294.3 51.5h4.4M296.5 49.6v3.8M294.9 51.0h4.4M297.1 49.1v3.8M295.5 50.1h4.4M297.7 48.2v3.8M296.0 51.1h4.4M298.2 49.2v3.8M296.6 51.0h4.4M298.8 49.1v3.8M297.2 50.7h4.4M299.4 48.8v3.8M297.7 51.3h4.4M299.9 49.4v3.8M298.3 52.3h4.4M300.5 50.4v3.8M298.9 52.9h4.4M301.1 51.0v3.8M299.4 51.8h4.4M301.6 49.9v3.8M300.0 52.7h4.4M302.2 50.8v3.8M300.6 53.0h4.4M302.8 51.1v3.8M301.1 51.8h4.4M303.3 49.9v3.8M301.7 52.5h4.4M303.9 50.6v3.8M302.3 52.7h4.4M304.5 50.8v3.8M302.8 52.9h4.4M305.0 51.0v3.8M303.4 52.1h4.4M305.6 50.2v3.8M304.0 52.9h4.4M306.2 51.0v3.8M304.5 53.8h4.4M306.7 51.9v3.8M305.1 54.0h4.4M307.3 52.1v3.8M305.7 54.4h4.4M307.9 52.5v3.8M306.2 53.4h4.4M308.4 51.5v3.8M306.8 54.7h4.4M309.0 52.8v3.8M307.4 54.2h4.4M309.6 52.3v3.8M307.9 53.2h4.4M310.1 51.3v3.8M308.5 54.5h4.4M310.7 52.6v3.8M309.1 54.0h4.4M311.3 52.1v3.8M309.6 54.6h4.4M311.8 52.7v3.8M310.2 54.4h4.4M312.4 52.5v3.8M310.8 55.2h4.4M313.0 53.3v3.8M311.4 54.8h4.4M313.6 52.9v3.8M311.9 54.6h4.4M314.1 52.7v3.8M312.5 55.4h4.4M314.7 53.5v3.8M313.1 55.1h4.4M315.3 53.2v3.8M313.6 54.9h4.4M315.8 53.0v3.8M314.2 55.9h4.4M316.4 54.0v3.8M314.8 55.1h4.4M317.0 53.2v3.8M315.3 55.1h4.4M317.5 53.2v3.8M315.9 55.3h4.4M318.1 53.4v3.8M316.5 54.9h4.4M318.7 53.0v3.8M317.0 55.5h4.4M319.2 53.6v3.8M317.6 57.0h4.4M319.8 55.1v3.8M318.2 55.5h4.4M320.4 53.6v3.8M318.7 56.0h4.4M320.9 54.1v3.8M319.3 55.4h4.4M321.5 53.5v3.8M319.9 55.6h4.4M322.1 53.7v3.8M320.4 56.8h4.4M322.6 54.9v3.8M321.0 56.5h4.4M323.2 54.6v3.8M321.6 55.6h4.4M323.8 53.7v3.8M322.1 56.0h4.4M324.3 54.1v3.8M322.7 55.5h4.4M324.9 53.6v3.8M323.3 55.5h4.4M325.5 53.6v3.8M323.8 55.4h4.4M326.0 53.5v3.8M324.4 55.4h4.4M326.6 53.5v3.8M325.0 56.1h4.4M327.2 54.2v3.8M325.5 56.3h4.4M327.7 54.4v3.8M326.1 56.2h4.4M328.3 54.3v3.8M326.7 55.8h4.4M328.9 53.9v3.8M327.2 55.2h4.4M329.4 53.3v3.8M327.8 55.9h4.4M330.0 54.0v3.8M328.4 55.3h4.4M330.6 53.4v3.8M328.9 56.2h4.4M331.1 54.3v3.8M329.5 55.9h4.4M331.7 54.0v3.8M330.1 55.9h4.4M332.3 54.0v3.8M330.6 55.2h4.4M332.8 53.3v3.8M331.2 54.3h4.4M333.4 52.4v3.8M331.8 55.8h4.4M334.0 53.9v3.8M332.3 55.8h4.4M334.5 53.9v3.8M332.9 54.2h4.4M335.1 52.3v3.8M333.5 55.0h4.4M335.7 53.1v3.8M334.0 55.5h4.4M336.2 53.6v3.8M334.6 54.2h4.4M336.8 52.3v3.8M335.2 55.6h4.4M337.4 53.7v3.8M335.7 54.4h4.4M337.9 52.5v3.8M336.3 53.9h4.4M338.5 52.0v3.8M336.9 55.1h4.4M339.1 53.2v3.8M337.4 54.4h4.4M339.6 52.5v3.8M338.0 53.8h4.4M340.2 51.9v3.8M338.6 54.5h4.4M340.8 52.6v3.8M339.1 52.8h4.4M341.3 50.9v3.8M339.7 54.8h4.4M341.9 52.9v3.8M340.3 53.2h4.4M342.5 51.3v3.8M340.8 53.7h4.4M343.0 51.8v3.8M341.4 53.2h4.4M343.6 51.3v3.8M342.0 53.5h4.4M344.2 51.6v3.8M342.5 53.6h4.4M344.7 51.7v3.8M343.1 52.6h4.4M345.3 50.7v3.8M343.7 53.3h4.4M345.9 51.4v3.8M344.2 52.5h4.4M346.4 50.6v3.8M344.8 52.2h4.4M347.0 50.3v3.8M345.4 52.3h4.4M347.6 50.4v3.8M345.9 51.7h4.4M348.1 49.8v3.8M346.5 51.6h4.4M348.7 49.7v3.8M347.1 52.4h4.4M349.3 50.5v3.8M347.6 51.7h4.4M349.8 49.8v3.8M348.2 52.2h4.4M350.4 50.3v3.8M348.8 51.7h4.4M351.0 49.8v3.8M349.3 50.8h4.4M351.5 48.9v3.8M349.9 50.2h4.4M352.1 48.3v3.8M350.5 50.7h4.4M352.7 48.8v3.8M351.0 51.1h4.4M353.2 49.2v3.8M351.6 50.9h4.4M353.8 49.0v3.8M352.2 50.3h4.4M354.4 48.4v3.8M352.7 51.2h4.4M354.9 49.3v3.8M353.3 49.6h4.4M355.5 47.7v3.8M353.9 49.8h4.4M356.1 47.9v3.8M354.4 50.5h4.4M356.6 48.6v3.8M355.0 51.5h4.4M357.2 49.6v3.8M355.6 50.5h4.4M357.8 48.6v3.8M356.1 49.6h4.4M358.3 47.7v3.8M356.7 50.5h4.4M358.9 48.6v3.8M357.3 50.4h4.4M359.5 48.5v3.8M357.8 50.5h4.4M360.0 48.6v3.8M358.4 49.7h4.4M360.6 47.8v3.8M359.0 49.4h4.4M361.2 47.5v3.8M359.5 49.9h4.4M361.7 48.0v3.8M360.1 50.0h4.4M362.3 48.1v3.8M360.7 50.6h4.4M362.9 48.7v3.8M361.2 50.8h4.4M363.4 48.9v3.8M361.8 49.2h4.4M364.0 47.3v3.8M362.4 49.3h4.4M364.6 47.4v3.8M362.9 49.5h4.4M365.1 47.6v3.8M363.5 49.4h4.4M365.7 47.5v3.8M364.1 49.8h4.4M366.3 47.9v3.8M364.6 49.8h4.4M366.8 47.9v3.8M365.2 49.7h4.4M367.4 47.8v3.8M365.8 50.3h4.4M368.0 48.4v3.8M366.3 49.5h4.4M368.5 47.6v3.8M366.9 49.0h4.4M369.1 47.1v3.8M367.5 48.7h4.4M369.7 46.8v3.8M368.1 49.0h4.4M370.3 47.1v3.8M368.6 49.0h4.4M370.8 47.1v3.8M369.2 48.6h4.4M371.4 46.7v3.8M369.8 50.0h4.4M372.0 48.1v3.8M370.3 49.8h4.4M372.5 47.9v3.8M370.9 49.5h4.4M373.1 47.6v3.8M371.5 49.3h4.4M373.7 47.4v3.8M372.0 49.0h4.4M374.2 47.1v3.8M372.6 49.4h4.4M374.8 47.5v3.8M373.2 51.0h4.4M375.4 49.1v3.8M373.7 48.8h4.4M375.9 46.9v3.8M374.3 50.2h4.4M376.5 48.3v3.8M374.9 50.6h4.4M377.1 48.7v3.8M375.4 50.3h4.4M377.6 48.4v3.8M376.0 50.1h4.4M378.2 48.2v3.8M376.6 50.8h4.4M378.8 48.9v3.8M377.1 49.8h4.4M379.3 47.9v3.8M377.7 50.8h4.4M379.9 48.9v3.8M378.3 51.4h4.4M380.5 49.5v3.8M378.8 50.1h4.4M381.0 48.2v3.8M379.4 50.3h4.4M381.6 48.4v3.8M380.0 50.9h4.4M382.2 49.0v3.8M380.5 51.4h4.4M382.7 49.5v3.8M381.1 51.7h4.4M383.3 49.8v3.8M381.7 51.4h4.4M383.9 49.5v3.8M382.2 50.8h4.4M384.4 48.9v3.8M382.8 50.6h4.4M385.0 48.7v3.8M383.4 51.4h4.4M385.6 49.5v3.8M383.9 51.6h4.4M386.1 49.7v3.8M384.5 50.8h4.4M386.7 48.9v3.8M385.1 51.5h4.4M387.3 49.6v3.8M385.6 51.8h4.4M387.8 49.9v3.8M386.2 52.2h4.4M388.4 50.3v3.8M386.8 51.2h4.4M389.0 49.3v3.8M387.3 52.1h4.4M389.5 50.2v3.8M387.9 51.3h4.4M390.1 49.4v3.8M388.5 51.8h4.4M390.7 49.9v3.8M389.0 52.1h4.4M391.2 50.2v3.8M389.6 53.1h4.4M391.8 51.2v3.8M390.2 54.2h4.4M392.4 52.3v3.8M390.7 52.6h4.4M392.9 50.7v3.8M391.3 52.9h4.4M393.5 51.0v3.8M391.9 53.3h4.4M394.1 51.4v3.8M392.4 52.1h4.4M394.6 50.2v3.8M393.0 53.4h4.4M395.2 51.5v3.8M393.6 52.4h4.4M395.8 50.5v3.8M394.1 54.1h4.4M396.3 52.2v3.8M394.7 54.1h4.4M396.9 52.2v3.8M395.3 53.6h4.4M397.5 51.7v3.8M395.8 52.9h4.4M398.0 51.0v3.8M396.4 54.4h4.4M398.6 52.5v3.8M397.0 53.6h4.4M399.2 51.7v3.8M397.5 53.6h4.4M399.7 51.7v3.8M398.1 53.9h4.4M400.3 52.0v3.8M398.7 52.7h4.4M400.9 50.8v3.8M399.2 53.9h4.4M401.4 52.0v3.8M399.8 54.3h4.4M402.0 52.4v3.8M400.4 54.0h4.4M402.6 52.1v3.8M400.9 53.9h4.4M403.1 52.0v3.8M401.5 53.4h4.4M403.7 51.5v3.8M402.1 54.3h4.4M404.3 52.4v3.8M402.6 54.1h4.4M404.8 52.2v3.8M403.2 54.0h4.4M405.4 52.1v3.8M403.8 53.7h4.4M406.0 51.8v3.8M404.3 54.5h4.4M406.5 52.6v3.8M404.9 54.8h4.4M407.1 52.9v3.8M405.5 54.3h4.4M407.7 52.4v3.8M406.0 54.6h4.4M408.2 52.7v3.8M406.6 54.9h4.4M408.8 53.0v3.8M407.2 55.1h4.4M409.4 53.2v3.8M407.7 54.3h4.4M409.9 52.4v3.8M408.3 54.1h4.4M410.5 52.2v3.8M408.9 54.0h4.4M411.1 52.1v3.8M409.4 54.3h4.4M411.6 52.4v3.8M410.0 54.6h4.4M412.2 52.7v3.8M410.6 54.8h4.4M412.8 52.9v3.8M411.1 54.0h4.4M413.3 52.1v3.8M411.7 54.3h4.4M413.9 52.4v3.8M412.3 53.6h4.4M414.5 51.7v3.8M412.8 54.8h4.4M415.0 52.9v3.8M413.4 53.9h4.4M415.6 52.0v3.8M414.0 54.3h4.4M416.2 52.4v3.8M414.5 53.6h4.4M416.7 51.7v3.8M415.1 53.8h4.4M417.3 51.9v3.8M415.7 53.7h4.4M417.9 51.8v3.8M416.2 55.1h4.4M418.4 53.2v3.8M416.8 54.5h4.4M419.0 52.6v3.8M417.4 54.4h4.4M419.6 52.5v3.8M417.9 54.0h4.4M420.1 52.1v3.8M418.5 54.3h4.4M420.7 52.4v3.8M419.1 55.1h4.4M421.3 53.2v3.8M419.6 55.8h4.4M421.8 53.9v3.8M420.2 54.3h4.4M422.4 52.4v3.8M420.8 54.7h4.4M423.0 52.8v3.8M421.3 55.2h4.4M423.5 53.3v3.8M421.9 55.1h4.4M424.1 53.2v3.8M422.5 54.6h4.4M424.7 52.7v3.8M423.0 55.7h4.4M425.2 53.8v3.8M423.6 56.2h4.4M425.8 54.3v3.8M424.2 55.0h4.4M426.4 53.1v3.8M424.8 56.1h4.4M427.0 54.2v3.8M425.3 56.6h4.4M427.5 54.7v3.8M425.9 56.7h4.4M428.1 54.8v3.8M426.5 56.0h4.4M428.7 54.1v3.8M427.0 57.6h4.4M429.2 55.7v3.8M427.6 56.8h4.4M429.8 54.9v3.8M428.2 56.1h4.4M430.4 54.2v3.8M428.7 57.2h4.4M430.9 55.3v3.8M429.3 56.2h4.4M431.5 54.3v3.8M429.9 57.5h4.4M432.1 55.6v3.8M430.4 56.4h4.4M432.6 54.5v3.8M431.0 57.7h4.4M433.2 55.8v3.8M431.6 57.0h4.4M433.8 55.1v3.8M432.1 58.1h4.4M434.3 56.2v3.8M432.7 58.0h4.4M434.9 56.1v3.8M433.3 58.0h4.4M435.5 56.1v3.8M433.8 57.9h4.4M436.0 56.0v3.8M434.4 58.6h4.4M436.6 56.7v3.8M435.0 57.1h4.4M437.2 55.2v3.8M435.5 58.5h4.4M437.7 56.6v3.8M436.1 58.7h4.4M438.3 56.8v3.8M436.7 58.9h4.4M438.9 57.0v3.8M437.2 59.3h4.4M439.4 57.4v3.8M437.8 61.0h4.4M440.0 59.1v3.8M438.4 59.2h4.4M440.6 57.3v3.8M438.9 59.8h4.4M441.1 57.9v3.8M439.5 59.6h4.4M441.7 57.7v3.8M440.1 60.6h4.4M442.3 58.7v3.8M440.6 58.8h4.4M442.8 56.9v3.8M441.2 61.0h4.4M443.4 59.1v3.8M441.8 59.9h4.4M444.0 58.0v3.8M442.3 59.2h4.4M444.5 57.3v3.8M442.9 60.0h4.4M445.1 58.1v3.8M443.5 60.7h4.4M445.7 58.8v3.8M444.0 61.1h4.4M446.2 59.2v3.8M444.6 61.1h4.4M446.8 59.2v3.8M445.2 61.7h4.4M447.4 59.8v3.8M445.7 61.4h4.4M447.9 59.5v3.8M446.3 61.6h4.4M448.5 59.7v3.8M446.9 60.6h4.4M449.1 58.7v3.8M447.4 62.2h4.4M449.6 60.3v3.8M448.0 62.7h4.4M450.2 60.8v3.8M448.6 62.1h4.4M450.8 60.2v3.8M449.1 61.4h4.4M451.3 59.5v3.8M449.7 61.9h4.4M451.9 60.0v3.8M450.3 63.7h4.4M452.5 61.8v3.8M450.8 62.6h4.4M453.0 60.7v3.8M451.4 62.7h4.4M453.6 60.8v3.8M452.0 62.7h4.4M454.2 60.8v3.8M452.5 63.7h4.4M454.7 61.8v3.8M453.1 63.1h4.4M455.3 61.2v3.8M453.7 63.1h4.4M455.9 61.2v3.8M454.2 62.9h4.4M456.4 61.0v3.8M454.8 63.8h4.4M457.0 61.9v3.8M455.4 64.6h4.4M457.6 62.7v3.8M455.9 64.1h4.4M458.1 62.2v3.8M456.5 64.8h4.4M458.7 62.9v3.8M457.1 64.5h4.4M459.3 62.6v3.8M457.6 64.6h4.4M459.8 62.7v3.8M458.2 64.8h4.4M460.4 62.9v3.8M458.8 64.7h4.4M461.0 62.8v3.8M459.3 65.4h4.4M461.5 63.5v3.8M459.9 65.1h4.4M462.1 63.2v3.8M460.5 64.6h4.4M462.7 62.7v3.8M461.0 65.1h4.4M463.2 63.2v3.8M461.6 65.1h4.4M463.8 63.2v3.8M462.2 65.4h4.4M464.4 63.5v3.8M462.7 65.4h4.4M464.9 63.5v3.8M463.3 65.6h4.4M465.5 63.7v3.8M463.9 64.6h4.4M466.1 62.7v3.8M464.4 65.7h4.4M466.6 63.8v3.8M465.0 66.3h4.4M467.2 64.4v3.8M465.6 64.9h4.4M467.8 63.0v3.8M466.1 66.5h4.4M468.3 64.6v3.8M466.7 65.7h4.4M468.9 63.8v3.8M467.3 65.4h4.4M469.5 63.5v3.8M467.8 64.6h4.4M470.0 62.7v3.8M468.4 66.1h4.4M470.6 64.2v3.8M469.0 65.0h4.4M471.2 63.1v3.8M469.5 65.2h4.4M471.7 63.3v3.8M470.1 65.8h4.4M472.3 63.9v3.8M470.7 64.8h4.4M472.9 62.9v3.8M471.2 64.7h4.4M473.4 62.8v3.8M471.8 64.5h4.4M474.0 62.6v3.8M472.4 64.9h4.4M474.6 63.0v3.8M472.9 65.1h4.4M475.1 63.2v3.8M473.5 64.9h4.4M475.7 63.0v3.8M474.1 64.7h4.4M476.3 62.8v3.8M474.6 64.2h4.4M476.8 62.3v3.8M475.2 64.3h4.4M477.4 62.4v3.8M475.8 63.7h4.4M478.0 61.8v3.8M476.3 64.9h4.4M478.5 63.0v3.8M476.9 63.8h4.4M479.1 61.9v3.8M477.5 62.4h4.4M479.7 60.5v3.8M478.0 62.7h4.4M480.2 60.8v3.8M478.6 64.0h4.4M480.8 62.1v3.8M479.2 62.1h4.4M481.4 60.2v3.8M479.7 62.4h4.4M481.9 60.5v3.8M480.3 62.7h4.4M482.5 60.8v3.8M480.9 61.8h4.4M483.1 59.9v3.8M481.5 62.8h4.4M483.7 60.9v3.8M482.0 63.0h4.4M484.2 61.1v3.8M482.6 61.5h4.4M484.8 59.6v3.8M483.2 62.5h4.4M485.4 60.6v3.8M483.7 61.2h4.4M485.9 59.3v3.8M484.3 61.0h4.4M486.5 59.1v3.8M484.9 61.6h4.4M487.1 59.7v3.8M485.4 61.4h4.4M487.6 59.5v3.8M486.0 60.8h4.4M488.2 58.9v3.8M486.6 61.5h4.4M488.8 59.6v3.8M487.1 60.1h4.4M489.3 58.2v3.8M487.7 60.3h4.4M489.9 58.4v3.8M488.3 60.0h4.4M490.5 58.1v3.8M488.8 61.0h4.4M491.0 59.1v3.8M489.4 60.9h4.4M491.6 59.0v3.8M490.0 60.8h4.4M492.2 58.9v3.8M490.5 59.6h4.4M492.7 57.7v3.8M491.1 60.3h4.4M493.3 58.4v3.8M491.7 60.4h4.4M493.9 58.5v3.8M492.2 59.2h4.4M494.4 57.3v3.8M492.8 59.5h4.4M495.0 57.6v3.8M493.4 60.3h4.4M495.6 58.4v3.8M493.9 60.4h4.4M496.1 58.5v3.8M494.5 60.1h4.4M496.7 58.2v3.8M495.1 60.2h4.4M497.3 58.3v3.8M495.6 60.1h4.4M497.8 58.2v3.8M496.2 60.0h4.4M498.4 58.1v3.8M496.8 59.8h4.4M499.0 57.9v3.8M497.3 59.4h4.4M499.5 57.5v3.8M497.9 59.7h4.4M500.1 57.8v3.8M498.5 59.6h4.4M500.7 57.7v3.8M499.0 61.1h4.4M501.2 59.2v3.8M499.6 60.0h4.4M501.8 58.1v3.8M500.2 59.8h4.4M502.4 57.9v3.8M500.7 59.7h4.4M502.9 57.8v3.8M501.3 59.8h4.4M503.5 57.9v3.8M501.9 59.8h4.4M504.1 57.9v3.8M502.4 60.3h4.4M504.6 58.4v3.8M503.0 60.1h4.4M505.2 58.2v3.8M503.6 60.6h4.4M505.8 58.7v3.8M504.1 59.8h4.4M506.3 57.9v3.8M504.7 60.4h4.4M506.9 58.5v3.8M505.3 60.8h4.4M507.5 58.9v3.8M505.8 59.8h4.4M508.0 57.9v3.8M506.4 60.6h4.4M508.6 58.7v3.8M507.0 60.8h4.4M509.2 58.9v3.8M507.5 60.6h4.4M509.7 58.7v3.8M508.1 60.6h4.4M510.3 58.7v3.8M508.7 60.0h4.4M510.9 58.1v3.8M509.2 61.8h4.4M511.4 59.9v3.8M509.8 60.8h4.4M512.0 58.9v3.8M510.4 60.7h4.4M512.6 58.8v3.8M510.9 62.0h4.4M513.1 60.1v3.8M511.5 60.8h4.4M513.7 58.9v3.8M512.1 62.5h4.4M514.3 60.6v3.8M512.6 62.3h4.4M514.8 60.4v3.8M513.2 62.6h4.4M515.4 60.7v3.8M513.8 62.4h4.4M516.0 60.5v3.8M514.3 61.9h4.4M516.5 60.0v3.8M514.9 61.7h4.4M517.1 59.8v3.8M515.5 63.8h4.4M517.7 61.9v3.8M516.0 63.0h4.4M518.2 61.1v3.8M516.6 63.2h4.4M518.8 61.3v3.8M517.2 64.7h4.4M519.4 62.8v3.8M517.7 63.7h4.4M519.9 61.8v3.8M518.3 64.2h4.4M520.5 62.3v3.8M518.9 64.5h4.4M521.1 62.6v3.8M519.4 64.8h4.4M521.6 62.9v3.8M520.0 64.6h4.4M522.2 62.7v3.8M520.6 65.1h4.4M522.8 63.2v3.8M521.1 66.4h4.4M523.3 64.5v3.8M521.7 66.3h4.4M523.9 64.4v3.8M522.3 64.5h4.4M524.5 62.6v3.8M522.8 65.3h4.4M525.0 63.4v3.8M523.4 66.9h4.4M525.6 65.0v3.8M524.0 66.9h4.4M526.2 65.0v3.8M524.5 67.0h4.4M526.7 65.1v3.8M525.1 68.0h4.4M527.3 66.1v3.8M525.7 66.8h4.4M527.9 64.9v3.8M526.2 69.0h4.4M528.4 67.1v3.8M526.8 68.8h4.4M529.0 66.9v3.8M527.4 69.5h4.4M529.6 67.6v3.8M527.9 69.9h4.4M530.1 68.0v3.8M528.5 70.7h4.4M530.7 68.8v3.8M529.1 70.6h4.4M531.3 68.7v3.8M529.6 70.9h4.4M531.8 69.0v3.8M530.2 72.2h4.4M532.4 70.3v3.8M530.8 72.3h4.4M533.0 70.4v3.8M531.3 72.0h4.4M533.5 70.1v3.8M531.9 74.0h4.4M534.1 72.1v3.8M532.5 74.4h4.4M534.7 72.5v3.8M533.0 75.1h4.4M535.2 73.2v3.8M533.6 75.1h4.4M535.8 73.2v3.8M534.2 76.0h4.4M536.4 74.1v3.8M534.7 76.3h4.4M536.9 74.4v3.8M535.3 76.7h4.4M537.5 74.8v3.8M535.9 78.0h4.4M538.1 76.1v3.8M536.4 78.8h4.4M538.6 76.9v3.8M537.0 79.1h4.4M539.2 77.2v3.8M537.6 81.2h4.4M539.8 79.3v3.8M538.2 80.2h4.4M540.4 78.3v3.8M538.7 81.7h4.4M540.9 79.8v3.8M539.3 82.8h4.4M541.5 80.9v3.8M539.9 84.9h4.4M542.1 83.0v3.8M540.4 85.1h4.4M542.6 83.2v3.8M541.0 86.1h4.4M543.2 84.2v3.8M541.6 86.8h4.4M543.8 84.9v3.8M542.1 87.9h4.4M544.3 86.0v3.8M542.7 88.7h4.4M544.9 86.8v3.8M543.3 91.2h4.4M545.5 89.3v3.8M543.8 92.2h4.4M546.0 90.3v3.8M544.4 93.7h4.4M546.6 91.8v3.8M545.0 94.0h4.4M547.2 92.1v3.8M545.5 97.3h4.4M547.7 95.4v3.8M546.1 97.1h4.4M548.3 95.2v3.8M546.7 98.1h4.4M548.9 96.2v3.8M547.2 100.8h4.4M549.4 98.9v3.8M547.8 102.7h4.4M550.0 100.8v3.8M548.4 104.7h4.4M550.6 102.8v3.8M548.9 105.3h4.4M551.1 103.4v3.8M549.5 107.9h4.4M551.7 106.0v3.8M550.1 110.3h4.4M552.3 108.4v3.8M550.6 110.7h4.4M552.8 108.8v3.8M551.2 112.6h4.4M553.4 110.7v3.8M551.8 113.9h4.4M554.0 112.0v3.8M552.3 116.8h4.4M554.5 114.9v3.8M552.9 118.9h4.4M555.1 117.0v3.8M553.5 120.8h4.4M555.7 118.9v3.8M554.0 123.0h4.4M556.2 121.1v3.8M554.6 125.5h4.4M556.8 123.6v3.8M555.2 127.0h4.4M557.4 125.1v3.8M555.7 129.6h4.4M557.9 127.7v3.8M556.3 130.8h4.4M558.5 128.9v3.8M556.9 133.2h4.4M559.1 131.3v3.8M557.4 136.0h4.4M559.6 134.1v3.8M558.0 137.8h4.4M560.2 135.9v3.8M558.6 140.9h4.4M560.8 139.0v3.8M559.1 143.6h4.4M561.3 141.7v3.8M559.7 145.4h4.4M561.9 143.5v3.8M560.3 147.2h4.4M562.5 145.3v3.8M560.8 149.5h4.4M563.0 147.6v3.8M561.4 153.0h4.4M563.6 151.1v3.8M562.0 154.2h4.4M564.2 152.3v3.8M562.5 157.0h4.4M564.7 155.1v3.8M563.1 159.2h4.4M565.3 157.3v3.8M563.7 161.8h4.4M565.9 159.9v3.8M564.2 164.8h4.4M566.4 162.9v3.8M564.8 166.4h4.4M567.0 164.5v3.8M565.4 168.3h4.4M567.6 166.4v3.8M565.9 172.0h4.4M568.1 170.1v3.8M566.5 173.5h4.4M568.7 171.6v3.8M567.1 175.9h4.4M569.3 174.0v3.8M567.6 177.6h4.4M569.8 175.7v3.8M568.2 180.2h4.4M570.4 178.3v3.8M568.8 182.6h4.4M571.0 180.7v3.8M569.3 184.8h4.4M571.5 182.9v3.8M569.9 186.4h4.4M572.1 184.5v3.8M570.5 188.9h4.4M572.7 187.0v3.8M571.0 191.8h4.4M573.2 189.9v3.8M571.6 194.3h4.4M573.8 192.4v3.8M572.2 197.0h4.4M574.4 195.1v3.8M572.7 198.8h4.4M574.9 196.9v3.8M573.3 200.5h4.4M575.5 198.6v3.8M573.9 204.6h4.4M576.1 202.7v3.8M574.4 207.3h4.4M576.6 205.4v3.8M575.0 209.8h4.4M577.2 207.9v3.8M575.6 213.2h4.4M577.8 211.3v3.8M576.1 215.6h4.4M578.3 213.7v3.8M576.7 217.8h4.4M578.9 215.9v3.8M577.3 221.4h4.4M579.5 219.5v3.8M577.8 223.6h4.4M580.0 221.7v3.8M578.4 227.2h4.4M580.6 225.3v3.8M579.0 229.5h4.4M581.2 227.6v3.8M579.5 232.4h4.4M581.7 230.5v3.8M580.1 235.1h4.4M582.3 233.2v3.8M580.7 237.6h4.4M582.9 235.7v3.8M581.2 239.3h4.4M583.4 237.4v3.8M581.8 242.8h4.4M584.0 240.9v3.8M582.4 244.1h4.4M584.6 242.2v3.8M582.9 248.2h4.4M585.1 246.3v3.8M583.5 251.1h4.4M585.7 249.2v3.8M584.1 254.3h4.4M586.3 252.4v3.8M584.6 256.0h4.4M586.8 254.1v3.8M585.2 258.0h4.4M587.4 256.1v3.8M585.8 259.4h4.4M588.0 257.5v3.8M586.3 263.0h4.4M588.5 261.1v3.8M586.9 262.9h4.4M589.1 261.0v3.8M587.5 265.9h4.4M589.7 264.0v3.8M588.0 266.1h4.4M590.2 264.2v3.8M588.6 269.2h4.4M590.8 267.3v3.8M589.2 271.4h4.4M591.4 269.5v3.8M589.7 273.1h4.4M591.9 271.2v3.8M590.3 274.8h4.4M592.5 272.9v3.8M590.9 276.2h4.4M593.1 274.3v3.8M591.4 278.0h4.4M593.6 276.1v3.8M592.0 280.8h4.4M594.2 278.9v3.8M592.6 282.1h4.4M594.8 280.2v3.8M593.1 283.5h4.4M595.3 281.6v3.8M593.7 285.4h4.4M595.9 283.5v3.8M594.3 286.4h4.4M596.5 284.5v3.8M594.9 289.2h4.4M597.1 287.3v3.8M595.4 291.0h4.4M597.6 289.1v3.8M596.0 291.5h4.4M598.2 289.6v3.8M596.6 293.6h4.4M598.8 291.7v3.8M597.1 295.7h4.4M599.3 293.8v3.8M597.7 296.4h4.4M599.9 294.5v3.8M598.3 299.4h4.4M600.5 297.5v3.8M598.8 300.7h4.4M601.0 298.8v3.8M599.4 301.3h4.4M601.6 299.4v3.8M600.0 303.6h4.4M602.2 301.7v3.8M600.5 305.5h4.4M602.7 303.6v3.8M601.1 305.5h4.4M603.3 303.6v3.8M601.7 307.9h4.4M603.9 306.0v3.8M602.2 308.8h4.4M604.4 306.9v3.8M602.8 310.0h4.4M605.0 308.1v3.8M603.4 311.8h4.4M605.6 309.9v3.8M603.9 312.4h4.4M606.1 310.5v3.8M604.5 313.2h4.4M606.7 311.3v3.8M605.1 314.5h4.4M607.3 312.6v3.8M605.6 316.5h4.4M607.8 314.6v3.8M606.2 318.2h4.4M608.4 316.3v3.8M606.8 319.1h4.4M609.0 317.2v3.8M607.3 320.3h4.4M609.5 318.4v3.8M607.9 321.6h4.4M610.1 319.7v3.8M608.5 323.4h4.4M610.7 321.5v3.8M609.0 324.1h4.4M611.2 322.2v3.8M609.6 324.6h4.4M611.8 322.7v3.8M610.2 326.0h4.4M612.4 324.1v3.8M610.7 327.9h4.4M612.9 326.0v3.8M611.3 328.1h4.4M613.5 326.2v3.8M611.9 329.3h4.4M614.1 327.4v3.8M612.4 330.6h4.4M614.6 328.7v3.8M613.0 331.2h4.4M615.2 329.3v3.8M613.6 333.4h4.4M615.8 331.5v3.8M614.1 332.9h4.4M616.3 331.0v3.8M614.7 336.0h4.4M616.9 334.1v3.8M615.3 335.6h4.4M617.5 333.7v3.8M615.8 335.9h4.4M618.0 334.0v3.8M616.4 337.4h4.4M618.6 335.5v3.8M617.0 337.0h4.4M619.2 335.1v3.8M617.5 338.9h4.4M619.7 337.0v3.8M618.1 339.7h4.4M620.3 337.8v3.8M618.7 339.7h4.4M620.9 337.8v3.8M619.2 340.5h4.4M621.4 338.6v3.8M619.8 341.9h4.4M622.0 340.0v3.8M620.4 341.7h4.4M622.6 339.8v3.8M620.9 342.8h4.4M623.1 340.9v3.8M621.5 343.6h4.4M623.7 341.7v3.8M622.1 344.9h4.4M624.3 343.0v3.8M622.6 344.2h4.4M624.8 342.3v3.8M623.2 344.9h4.4M625.4 343.0v3.8M623.8 346.0h4.4M626.0 344.1v3.8M624.3 344.4h4.4M626.5 342.5v3.8M624.9 346.1h4.4M627.1 344.2v3.8M625.5 345.6h4.4M627.7 343.7v3.8M626.0 346.1h4.4M628.2 344.2v3.8M626.6 348.7h4.4M628.8 346.8v3.8M627.2 348.2h4.4M629.4 346.3v3.8M628.2 348.2h4.4M630.4 346.3v3.8M628.8 347.2h4.4M631.0 345.3v3.8M629.4 345.3h4.4M631.6 343.4v3.8M629.9 328.0h4.4M632.1 326.1v3.8M630.5 254.0h4.4M632.7 252.1v3.8M631.0 202.0h4.4M633.2 200.1v3.8" stroke="#000" stroke-width="0.9" fill="none"/>
<path d="M288.8 35.4V47.5" stroke="#000" stroke-width="1.9" fill="none"/><path d="M286.3 37h5M286.3 45.8h5" stroke="#000" stroke-width="1" fill="none"/>
<text x="23.5" y="20.3" textLength="19.8" lengthAdjust="spacingAndGlyphs" text-anchor="start" >-2.2</text><text x="23.5" y="75.3" textLength="19.8" lengthAdjust="spacingAndGlyphs" text-anchor="start" >-2.4</text><text x="23.5" y="130.3" textLength="19.8" lengthAdjust="spacingAndGlyphs" text-anchor="start" >-2.6</text><text x="23.5" y="185.3" textLength="19.8" lengthAdjust="spacingAndGlyphs" text-anchor="start" >-2.8</text><text x="23.5" y="240.3" textLength="19.8" lengthAdjust="spacingAndGlyphs" text-anchor="start" >-3.0</text><text x="23.5" y="295.3" textLength="19.8" lengthAdjust="spacingAndGlyphs" text-anchor="start" >-3.2</text><text x="23.5" y="350.3" textLength="19.8" lengthAdjust="spacingAndGlyphs" text-anchor="start" >-3.4</text>
<text x="105.0" y="375.1" textLength="26.2" lengthAdjust="spacingAndGlyphs" text-anchor="start" >7900</text><text x="195.7" y="375.1" textLength="26.2" lengthAdjust="spacingAndGlyphs" text-anchor="start" >7920</text><text x="286.4" y="375.1" textLength="26.2" lengthAdjust="spacingAndGlyphs" text-anchor="start" >7940</text><text x="377.1" y="375.1" textLength="26.2" lengthAdjust="spacingAndGlyphs" text-anchor="start" >7960</text><text x="467.8" y="375.1" textLength="26.2" lengthAdjust="spacingAndGlyphs" text-anchor="start" >7980</text><text x="558.5" y="375.1" textLength="26.2" lengthAdjust="spacingAndGlyphs" text-anchor="start" >8000</text>
<g transform="translate(18.5,222.2) rotate(-90)"><text x="0.0" y="0.0" textLength="83.0" lengthAdjust="spacingAndGlyphs" text-anchor="start" >Log10(Amp) Jy</text></g>
<text x="63.8" y="352.7" textLength="32.0" lengthAdjust="spacingAndGlyphs" text-anchor="start" style="font-weight:normal;font-size:13.2px;stroke:#111;stroke-width:0.6px">IF 8(I)</text>
<text x="314.0" y="386.5" textLength="32.5" lengthAdjust="spacingAndGlyphs" text-anchor="start" >FREQ</text>
<text x="356.8" y="386.5" textLength="23.3" lengthAdjust="spacingAndGlyphs" text-anchor="start" >MHz</text>
<text x="52.0" y="398.7" textLength="218.6" lengthAdjust="spacingAndGlyphs" text-anchor="start" >Scalar averaged cross-power spectrum</text>
<text x="283.6" y="398.7" textLength="151.4" lengthAdjust="spacingAndGlyphs" text-anchor="start" >Several baselines averaged</text>
</svg>
</body></html>
